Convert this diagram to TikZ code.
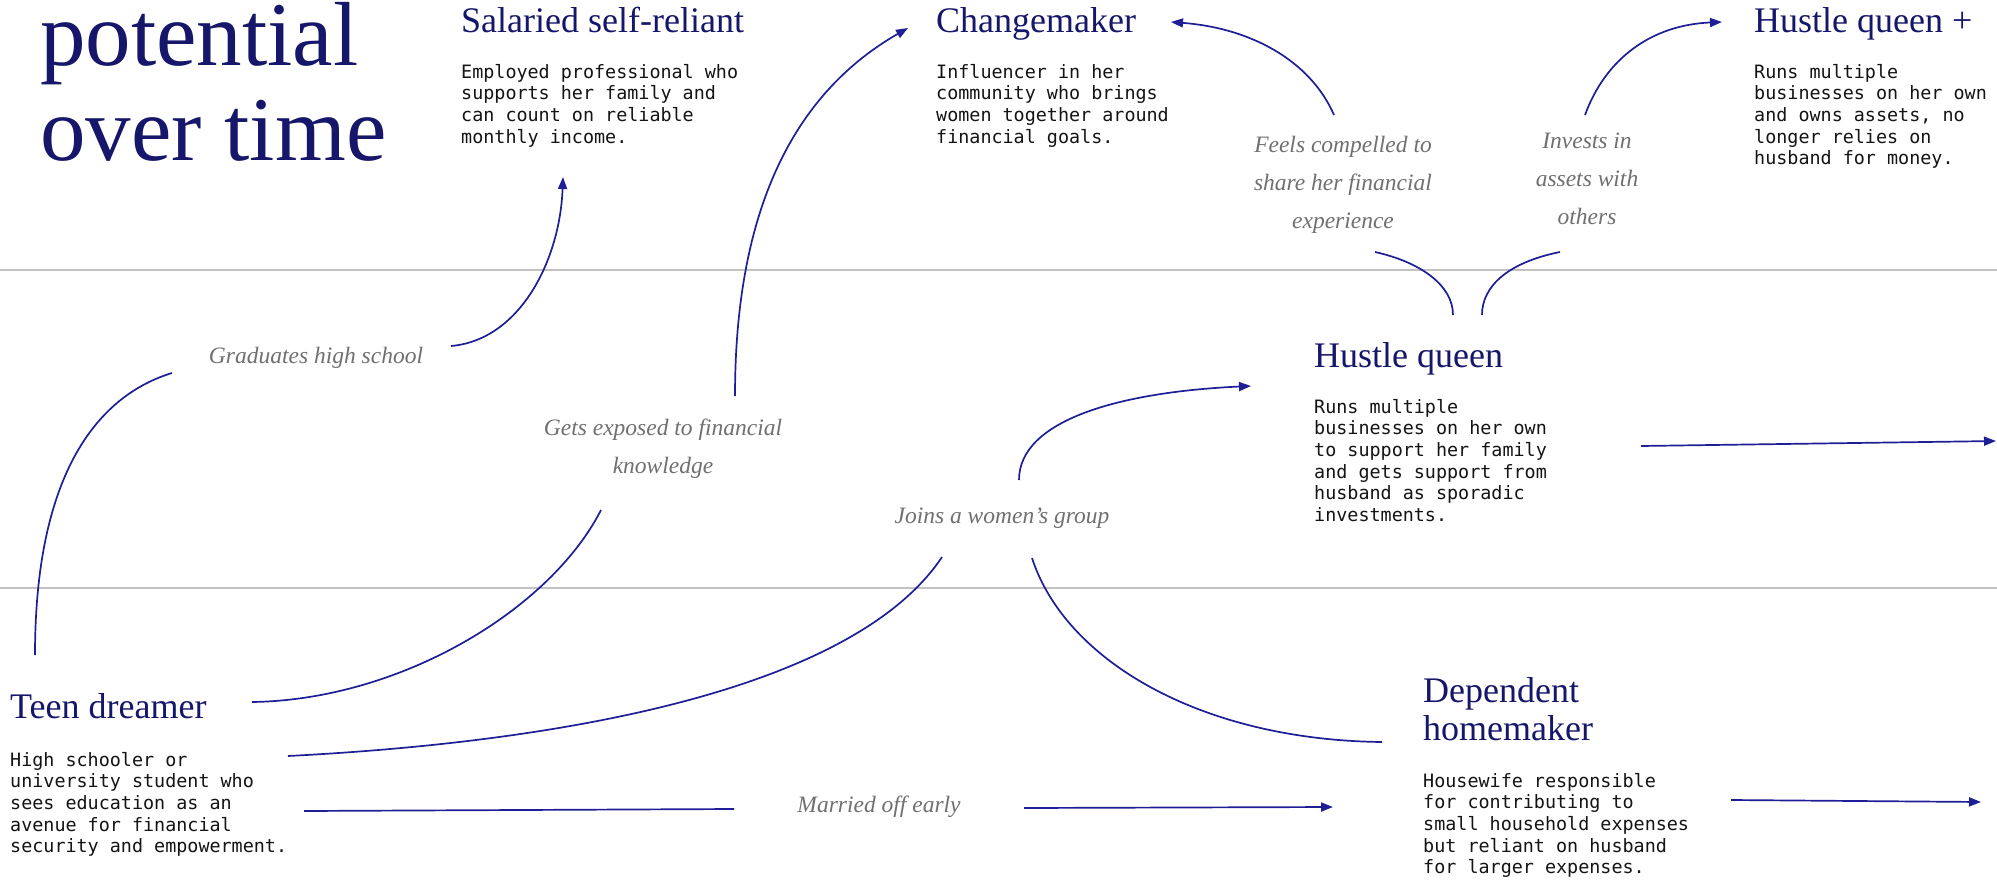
\documentclass[tikz,border=0pt]{standalone}
\usepackage{fontspec}
\setmainfont{Liberation Serif}
\newfontfamily\monofont{DejaVu Sans Mono}
\usetikzlibrary{arrows.meta}

\definecolor{navy}{HTML}{16166A}
\definecolor{inkblue}{HTML}{1E1E96}
\definecolor{notegray}{HTML}{707070}
\definecolor{rulegray}{HTML}{C2C2C2}
\definecolor{bodyink}{HTML}{141414}

% stacked lines whose baseline is the first line
\newcommand{\stackedlines}[2]{\begin{tabular}[t]{@{}#1@{}}#2\end{tabular}}

\begin{document}
\begin{tikzpicture}[
  x=1pt, y=-1pt,
  bigtitle/.style={anchor=base west, inner sep=0, text=navy,
    font=\fontsize{91}{96}\selectfont},
  head/.style={anchor=base west, inner sep=0, text=navy,
    font=\fontsize{36}{38}\selectfont},
  desc/.style={anchor=base west, inner sep=0, text=bodyink,
    font=\monofont\fontsize{18.4}{21.7}\selectfont},
  note/.style={anchor=base, inner sep=0, text=notegray,
    font=\itshape\fontsize{23.5}{38.3}\selectfont},
  link/.style={draw=inkblue, line width=1.7pt},
  arrowed/.style={-{Triangle[length=12pt,width=9pt]}},
  band/.style={draw=rulegray, line width=2pt}
]
\useasboundingbox[fill=white] (0,0) rectangle (1997,886);

% band separators
\draw[band] (0,270) -- (1997,270);
\draw[band] (0,588) -- (1997,588);

% title, one node per line
\node[bigtitle] (title) at (40,65) {potential};
\node[bigtitle] (title2) at (40,160) {over time};

% top row
\node[head] (salaried) at (461,32) {Salaried self-reliant};
\node[desc] (salaried-d) at (461,78) {\stackedlines{l}{Employed professional who\\supports her family and\\can count on reliable\\monthly income.}};

\node[head] (change) at (936,32) {Changemaker};
\node[desc] (change-d) at (936,78) {\stackedlines{l}{Influencer in her\\community who brings\\women together around\\financial goals.}};

\node[head] (hqplus) at (1754,32) {Hustle queen +};
\node[desc] (hqplus-d) at (1754,78) {\stackedlines{l}{Runs multiple\\businesses on her own\\and owns assets, no\\longer relies on\\husband for money.}};

% middle row
\node[head] (hq) at (1314,367) {Hustle queen};
\node[desc] (hq-d) at (1314,413) {\stackedlines{l}{Runs multiple\\businesses on her own\\to support her family\\and gets support from\\husband as sporadic\\investments.}};

% bottom row
\node[head] (teen) at (10,718) {Teen dreamer};
\node[desc] (teen-d) at (10,766) {\stackedlines{l}{High schooler or\\university student who\\sees education as an\\avenue for financial\\security and empowerment.}};

\node[head] (dep) at (1423,702) {\stackedlines{l}{Dependent\\homemaker}};
\node[desc] (dep-d) at (1423,787) {\stackedlines{l}{Housewife responsible\\for contributing to\\small household expenses\\but reliant on husband\\for larger expenses.}};

% transition labels
\node[note] (grad) at (316,363) {Graduates high school};
\node[note] (expo) at (663,435) {\stackedlines{c}{Gets exposed to financial\\knowledge}};
\node[note] (joins) at (1002,523) {Joins a women’s group};
\node[note] (married) at (879,812) {Married off early};
\node[note] (feels) at (1343,152) {\stackedlines{c}{Feels compelled to\\share her financial\\experience}};
\node[note] (invests) at (1587,148) {\stackedlines{c}{Invests in\\assets with\\others}};

% connector ends
\coordinate (teen-up) at (35,655);
\coordinate (grad-in) at (172,373);
\coordinate (grad-out) at (451,346);
\coordinate (salaried-in) at (563,177);
\coordinate (teen-r1) at (252,702);
\coordinate (expo-in) at (601,510);
\coordinate (expo-out) at (735,396);
\coordinate (change-in) at (908,28);
\coordinate (teen-r2) at (288,756);
\coordinate (joins-in) at (942,557);
\coordinate (joins-up) at (1019,480);
\coordinate (hq-in) at (1251,386);
\coordinate (joins-down) at (1032,558);
\coordinate (dep-in) at (1382,742);
\coordinate (teen-r3) at (304,811);
\coordinate (married-in) at (734,809);
\coordinate (married-out) at (1024,808);
\coordinate (dep-arr) at (1333,807);
\coordinate (dep-out) at (1731,800);
\coordinate (dep-next) at (1981,802);
\coordinate (hq-out) at (1641,446);
\coordinate (hq-next) at (1996,441);
\coordinate (hq-l) at (1453,315);
\coordinate (feels-in) at (1375,252);
\coordinate (hq-r) at (1482,315);
\coordinate (invests-in) at (1560,252);
\coordinate (feels-out) at (1334,115);
\coordinate (change-arr) at (1171,22);
\coordinate (invests-out) at (1585,115);
\coordinate (hqplus-in) at (1722,22);

% teen dreamer -> salaried self-reliant
\draw[link] (teen-up) .. controls (35,470) and (100,395) .. (grad-in);
\draw[link, arrowed] (grad-out) .. controls (520,340) and (560,260) .. (salaried-in);

% teen dreamer -> changemaker
\draw[link] (teen-r1) .. controls (400,700) and (550,610) .. (expo-in);
\draw[link, arrowed] (expo-out) .. controls (735,200) and (800,90) .. (change-in);

% teen dreamer -> women's group -> hustle queen / dependent homemaker
\draw[link] (teen-r2) .. controls (600,740) and (860,680) .. (joins-in);
\draw[link, arrowed] (joins-up) .. controls (1019,420) and (1120,392) .. (hq-in);
\draw[link] (joins-down) .. controls (1065,660) and (1200,740) .. (dep-in);

% teen dreamer -> dependent homemaker
\draw[link] (teen-r3) -- (married-in);
\draw[link, arrowed] (married-out) -- (dep-arr);
\draw[link, arrowed] (dep-out) -- (dep-next);

% hustle queen onwards
\draw[link, arrowed] (hq-out) -- (hq-next);
\draw[link] (hq-l) .. controls (1453,285) and (1420,262) .. (feels-in);
\draw[link] (hq-r) .. controls (1482,285) and (1510,262) .. (invests-in);
\draw[link, arrowed] (feels-out) .. controls (1310,60) and (1250,28) .. (change-arr);
\draw[link, arrowed] (invests-out) .. controls (1605,60) and (1650,25) .. (hqplus-in);
\end{tikzpicture}
\end{document}
